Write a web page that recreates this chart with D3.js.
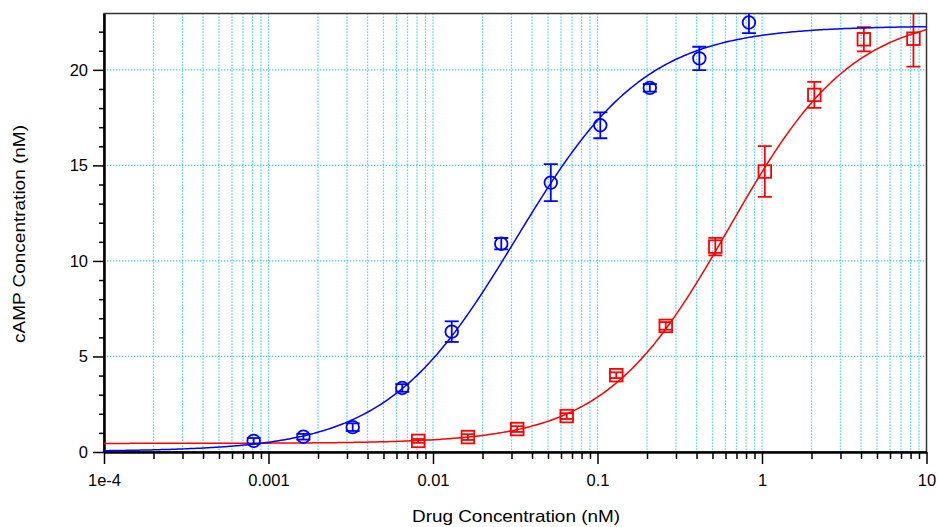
<!DOCTYPE html>
<html>
<head>
<meta charset="utf-8">
<script src="https://cdn.jsdelivr.net/npm/d3@7/dist/d3.min.js"></script>
<style>
    body { margin: 0; background: #fff; }
    text { font-family: "Liberation Sans", Arial, sans-serif; fill: #000; }
</style>
</head>
<body>
<svg width="938" height="527"></svg>
<script>
// concentrations (nM), means and error bars
var blueConc = [0.000813, 0.00163, 0.00325, 0.0065, 0.013, 0.026, 0.052, 0.104, 0.208, 0.416, 0.833];
var blueMean = [0.58, 0.8, 1.3, 3.35, 6.3, 10.9, 14.1, 17.1, 19.06, 20.6, 22.48];
var blueErr = [0.15, 0.15, 0.2, 0.2, 0.54, 0.3, 0.97, 0.68, 0.2, 0.61, 0.56];

var redConc = [0.00813, 0.0163, 0.0325, 0.065, 0.13, 0.26, 0.52, 1.04, 2.08, 4.16, 8.33];
var redMean = [0.58, 0.78, 1.2, 1.88, 4.02, 6.6, 10.75, 14.68, 18.69, 21.6, 21.63];
var redErr = [0.1, 0.15, 0.15, 0.15, 0.15, 0.2, 0.46, 1.33, 0.68, 0.63, 1.46];

// fitted sigmoid: bottom, top, EC50, hill slope
var blueFit = [0.03, 22.3, 0.032, 1.1];
var redFit = [0.45, 23.0, 0.63, 1.15];

var xTickValues = [1e-4, 1e-3, 1e-2, 1e-1, 1, 10];
var xTickLabels = ["1e-4", "0.001", "0.01", "0.1", "1", "10"];
var yTickValues = [0, 5, 10, 15, 20];

var svg = d3.select("svg"),
    margin = { top: 13.5, right: 11.5, bottom: 75, left: 104 },
    width = 938 - margin.left - margin.right,
    height = 527 - margin.top - margin.bottom;

var x = d3.scaleLog().domain([1e-4, 10]).range([0, width]),
    y = d3.scaleLinear().domain([0, 22.95]).range([height, 0]);

var g = svg.append("g")
    .attr("transform", "translate(" + margin.left + "," + margin.top + ")");

svg.append("defs").append("clipPath")
    .attr("id", "plot")
    .append("rect")
    .attr("width", width)
    .attr("height", height);

// minor x positions 2..9 of each decade
var xMinor = [];
xTickValues.slice(0, -1).forEach(function (d) {
    for (var k = 2; k < 10; k++) xMinor.push(d * k);
});
var yMinor = d3.range(0, 23).filter(function (d) { return d % 5 != 0; });

// dotted grid
var gridColor = "#33ccff";
g.append("g")
    .selectAll("line")
    .data(xMinor.concat(xTickValues.slice(1, -1)))
    .enter().append("line")
    .attr("x1", function (d) { return x(d); })
    .attr("x2", function (d) { return x(d); })
    .attr("y1", 0)
    .attr("y2", height)
    .attr("stroke", gridColor)
    .attr("stroke-width", 1.3)
    .attr("stroke-dasharray", "1.3,1.7");

g.append("g")
    .selectAll("line")
    .data(yTickValues.slice(1))
    .enter().append("line")
    .attr("x1", 0)
    .attr("x2", width)
    .attr("y1", function (d) { return y(d); })
    .attr("y2", function (d) { return y(d); })
    .attr("stroke", gridColor)
    .attr("stroke-width", 1.3)
    .attr("stroke-dasharray", "1.3,1.7");

// frame (top and right)
g.append("rect")
    .attr("width", width)
    .attr("height", height)
    .attr("fill", "none")
    .attr("stroke", "#333")
    .attr("stroke-width", 1.5);

// axes
var xMinorAxis = g.append("g")
    .attr("transform", "translate(0," + height + ")")
    .call(d3.axisBottom(x).tickValues(xMinor).tickSize(7).tickSizeOuter(0).tickFormat(""));

var xAxis = g.append("g")
    .attr("transform", "translate(0," + height + ")")
    .call(d3.axisBottom(x).tickValues(xTickValues).tickSize(12).tickSizeOuter(0).tickPadding(10.5)
        .tickFormat(function (d, i) { return xTickLabels[i]; }));

var yMinorAxis = g.append("g")
    .call(d3.axisLeft(y).tickValues(yMinor).tickSize(5).tickSizeOuter(0).tickFormat(""));

var yAxis = g.append("g")
    .call(d3.axisLeft(y).tickValues(yTickValues).tickSize(11).tickSizeOuter(0).tickPadding(5));

[xMinorAxis, xAxis, yMinorAxis, yAxis].forEach(function (a) {
    a.select(".domain").attr("stroke", "#000").attr("stroke-width", 2);
    a.selectAll(".tick line").attr("stroke", "#000").attr("stroke-width", 1.5);
    a.selectAll("text").attr("font-size", "16.5px").attr("font-family", "Liberation Sans, Arial, sans-serif");
});

// axis titles
svg.append("text")
    .attr("x", 516)
    .attr("y", 522)
    .attr("text-anchor", "middle")
    .attr("font-size", "16.5px")
    .attr("textLength", 208)
    .attr("lengthAdjust", "spacingAndGlyphs")
    .text("Drug Concentration (nM)");

svg.append("text")
    .attr("transform", "translate(25,234) rotate(-90)")
    .attr("text-anchor", "middle")
    .attr("font-size", "16.5px")
    .attr("textLength", 218)
    .attr("lengthAdjust", "spacingAndGlyphs")
    .text("cAMP Concentration (nM)");

// series
function sigmoid(p, c) {
    return p[0] + (p[1] - p[0]) / (1 + Math.pow(p[2] / c, p[3]));
}

var curveX = d3.range(0, 401).map(function (i) { return Math.pow(10, -4 + 5 * i / 400); });

var plot = g.append("g").attr("clip-path", "url(#plot)");

function drawSeries(conc, mean, err, fit, color, shape) {
    var line = d3.line()
        .x(function (d) { return x(d); })
        .y(function (d) { return y(sigmoid(fit, d)); });

    plot.append("path")
        .datum(curveX)
        .attr("d", line)
        .attr("fill", "none")
        .attr("stroke", color)
        .attr("stroke-width", 1.5);

    var pts = conc.map(function (c, i) { return { c: c, m: mean[i], e: err[i] }; });

    var bars = plot.append("g")
        .attr("stroke", color)
        .attr("stroke-width", 1.8)
        .selectAll("g")
        .data(pts)
        .enter().append("g");

    bars.append("line")
        .attr("x1", function (d) { return x(d.c); })
        .attr("x2", function (d) { return x(d.c); })
        .attr("y1", function (d) { return y(d.m - d.e); })
        .attr("y2", function (d) { return y(d.m + d.e); });
    bars.append("line")
        .attr("x1", function (d) { return x(d.c) - 7; })
        .attr("x2", function (d) { return x(d.c) + 7; })
        .attr("y1", function (d) { return y(d.m - d.e); })
        .attr("y2", function (d) { return y(d.m - d.e); });
    bars.append("line")
        .attr("x1", function (d) { return x(d.c) - 7; })
        .attr("x2", function (d) { return x(d.c) + 7; })
        .attr("y1", function (d) { return y(d.m + d.e); })
        .attr("y2", function (d) { return y(d.m + d.e); });

    if (shape == "circle") {
        plot.append("g")
            .selectAll("circle")
            .data(pts)
            .enter().append("circle")
            .attr("cx", function (d) { return x(d.c); })
            .attr("cy", function (d) { return y(d.m); })
            .attr("r", 6.3)
            .attr("fill", "none")
            .attr("stroke", color)
            .attr("stroke-width", 1.8);
    } else {
        plot.append("g")
            .selectAll("rect")
            .data(pts)
            .enter().append("rect")
            .attr("x", function (d) { return x(d.c) - 6.3; })
            .attr("y", function (d) { return y(d.m) - 6.3; })
            .attr("width", 12.6)
            .attr("height", 12.6)
            .attr("fill", "none")
            .attr("stroke", color)
            .attr("stroke-width", 1.8);
    }
}

drawSeries(redConc, redMean, redErr, redFit, "#ff0000", "square");
drawSeries(blueConc, blueMean, blueErr, blueFit, "#0000ff", "circle");
</script>
</body>
</html>
